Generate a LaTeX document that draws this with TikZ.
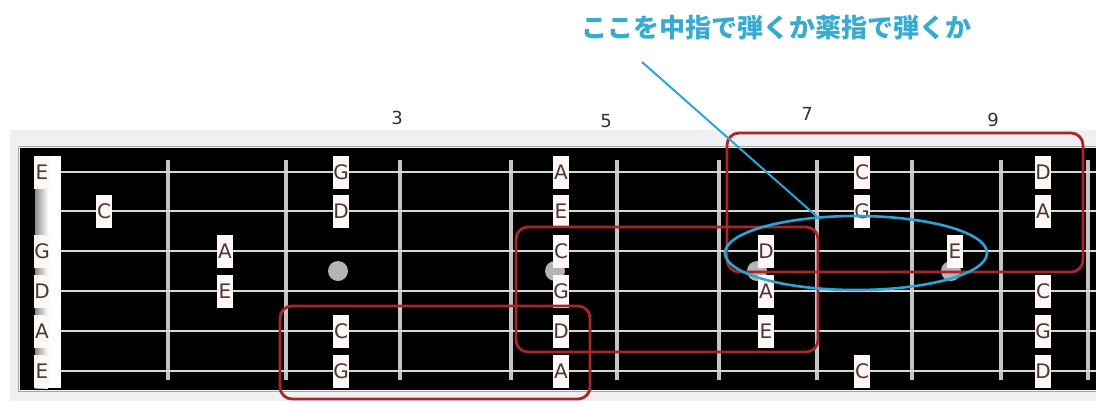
\documentclass[tikz,border=0pt]{standalone}
\usepackage{fontspec}
\setmainfont{DejaVu Sans}
\newfontfamily\cjk{Noto Sans CJK JP}
\usetikzlibrary{shapes.geometric}
\definecolor{panel}{HTML}{F0F0F0}
\definecolor{fretc}{HTML}{C4C4C4}
\definecolor{strc}{HTML}{D6D6D6}
\definecolor{dotc}{HTML}{B4B4B4}
\definecolor{lblfill}{HTML}{FFF6F6}
\definecolor{lbltext}{HTML}{4A3636}
\definecolor{boxred}{HTML}{A8262A}
\definecolor{markblue}{HTML}{2AA6D2}
\definecolor{textblue}{HTML}{3AABD0}
\tikzset{
  lbl/.style={fill=lblfill, text=lbltext, minimum width=16pt, minimum height=33pt, inner sep=0pt, font=\fontsize{20}{20}\selectfont},
  fretline/.style={draw=fretc, line width=4pt},
  strline/.style={draw=strc, line width=2pt},
  fretdot/.style={fill=dotc},
  redbox/.style={draw=boxred, line width=2.8pt, rounded corners=12pt},
  fretnum/.style={text=black!80, font=\fontsize{18}{18}\selectfont},
}
\begin{document}
\begin{tikzpicture}[x=1pt,y=-1pt]
\useasboundingbox (0,0) rectangle (1096,405);
\fill[white] (0,0) rectangle (1096,405);
% panel
\fill[panel] (10,130) rectangle (1096,401);
% board
\fill[black] (20,148) rectangle (1096,390);
\draw[black!35, line width=1pt] (18.5,146.5) -- (1096,146.5);
\draw[black!35, line width=1pt] (18.5,146.5) -- (18.5,391.5) -- (1096,391.5);
% nut
\shade[left color=black!45, right color=white] (35,156) rectangle (48,388);
\fill[white] (48,156) rectangle (61,388);
% frets
\foreach \x in {168,286,400,511,617,719,817,912,1001,1088}
  \draw[fretline] (\x,160) -- (\x,380);
% strings
\foreach \y in {172,211,251,291,331,371}
  \draw[strline] (61,\y) -- (1096,\y);
% position dots
\foreach \x in {338,555,757,951}
  \fill[fretdot] (\x,271) circle (10pt);
% note labels
\foreach \x/\y/\t in {42/172/E, 42/251/G, 42/291/D, 42/331/A, 42/371/E,
  104/211/C,
  225/251/A, 225/291/E,
  341/172/G, 341/211/D, 341/331/C, 341/371/G,
  561/172/A, 561/211/E, 561/251/C, 561/291/G, 561/331/D, 561/371/A,
  766/251/D, 766/291/A, 766/331/E,
  862/172/C, 862/211/G, 862/371/C,
  955/251/E,
  1043/172/D, 1043/211/A, 1043/291/C, 1043/331/G, 1043/371/D}
  \node[lbl] (n-\x-\y) at (\x,\y) {\t};
% fret numbers
\node[fretnum] (f3) at (397,118) {3};
\node[fretnum] (f5) at (606,121) {5};
\node[fretnum] (f7) at (807,114) {7};
\node[fretnum] (f9) at (993,120) {9};
% red boxes
\draw[redbox] (280,306) rectangle (590,399);
\draw[redbox] (516,227) rectangle (818,352);
\draw[redbox] (727,133) rectangle (1083,272);
% blue ellipse and pointer
\node[draw=markblue, line width=2.6pt, ellipse, minimum width=262pt, minimum height=74pt, inner sep=0pt] (ell) at (856,253) {};
\coordinate (ptr) at (642,62);
\draw[markblue, line width=2pt] (ptr) -- (ell.137);
% annotation text
\node[text=textblue, font=\cjk\bfseries\fontsize{26}{26}\selectfont] (note) at (776,28) {ここを中指で弾くか薬指で弾くか};
\end{tikzpicture}
\end{document}
